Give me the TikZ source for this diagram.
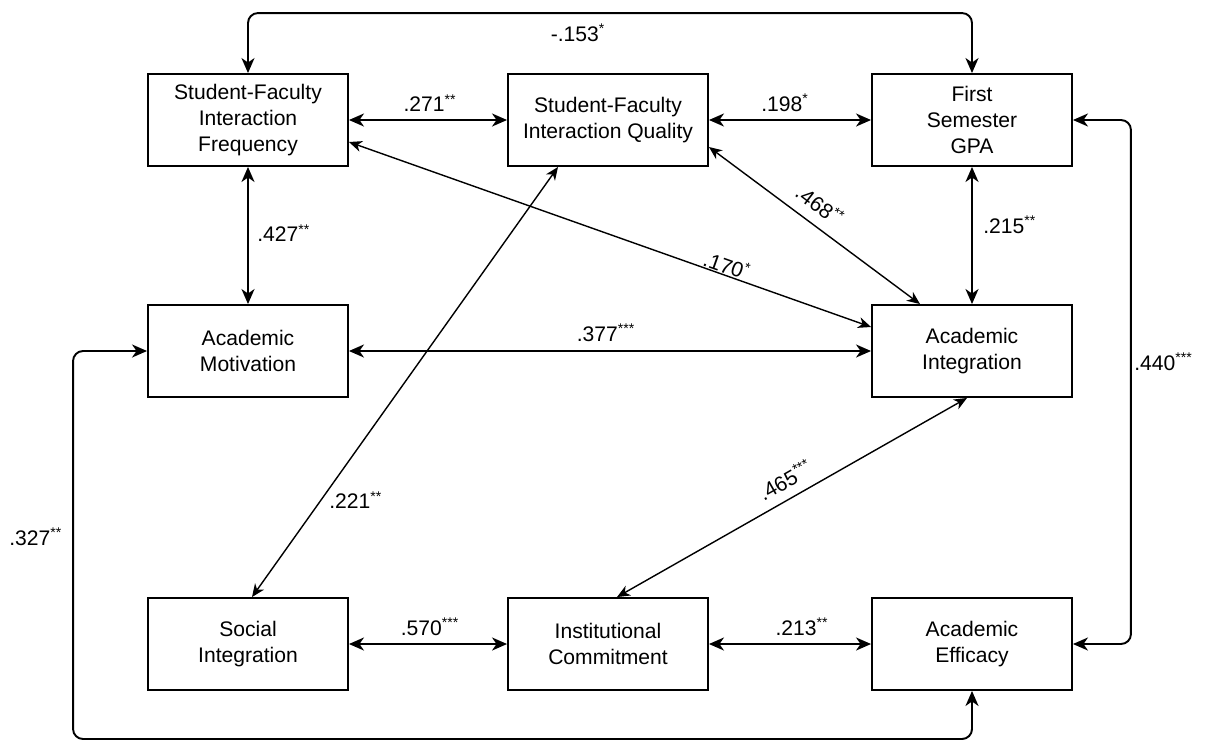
\documentclass[tikz,border=0pt]{standalone}
\usepackage{fontspec}
\setmainfont{Liberation Sans}
\usetikzlibrary{arrows.meta}

\begin{document}
\begin{tikzpicture}[x=0.02cm, y=-0.02cm,
    >={Stealth[length=3mm, width=2.6mm, inset=0.9mm]},
    box/.style={draw, line width=1.1pt, minimum width=4cm, minimum height=1.84cm, inner sep=0pt, align=center, font=\fontsize{12}{14.8}\selectfont},
    lbl/.style={inner sep=0pt, font=\fontsize{12}{14}\selectfont},
    link/.style={line width=1.1pt, <->},
    diag/.style={line width=0.8pt, <->, >={Stealth[length=2.6mm, width=2.2mm, inset=0.8mm]}},
]
\useasboundingbox (0,0) rectangle (1206,741);

\node[box] (sfif) at (248,120) {Student-Faculty\\Interaction\\Frequency};
\node[box] (sfiq) at (608,120) {Student-Faculty\\Interaction Quality};
\node[box] (gpa) at (972,120) {First\\Semester\\GPA};
\node[box] (am) at (248,351) {Academic\\Motivation};
\node[box] (ai) at (972,351) {Academic\\Integration};
\node[box] (si) at (248,644) {Social\\Integration};
\node[box] (ic) at (608,644) {Institutional\\Commitment};
\node[box] (ae) at (972,644) {Academic\\Efficacy};

\draw[link] (sfif) -- (sfiq);
\draw[link] (sfiq) -- (gpa);
\draw[link] (sfif) -- (am);
\draw[link] (gpa) -- (ai);
\draw[link] (am) -- (ai);
\draw[link] (si) -- (ic);
\draw[link] (ic) -- (ae);

\draw[diag] ([yshift=-0.44cm]sfif.east) -- ([yshift=0.48cm]ai.west);
\draw[diag] ([yshift=-0.54cm]sfiq.east) -- ([xshift=-1.04cm]ai.north);
\draw[diag] ([xshift=-1.0cm]sfiq.south) -- ([xshift=0.08cm]si.north);
\draw[diag] ([xshift=0.18cm]ic.north) -- ([xshift=-0.1cm]ai.south);

\draw[link, rounded corners=0.2cm] (sfif.north) -- ++(0,-60) -| (gpa.north);
\draw[link, rounded corners=0.2cm] (gpa.east) -- ++(58,0) |- (ae.east);
\draw[link, rounded corners=0.2cm] (am.west) -- ++(-74,0) -- ++(0,388) -| (ae.south);

\node[lbl] (l153) at (578,33) {-.153\textsuperscript{*}};
\node[lbl] (l271) at (430,103) {.271\textsuperscript{**}};
\node[lbl] (l198) at (785,103) {.198\textsuperscript{*}};
\node[lbl, anchor=west] (l427) at (257,233) {.427\textsuperscript{**}};
\node[lbl, anchor=west] (l215) at (983,225) {.215\textsuperscript{**}};
\node[lbl, rotate=-19.4] (l170) at (727,265) {.170\textsuperscript{*}};
\node[lbl, rotate=-37] (l468) at (820,205) {.468\textsuperscript{**}};
\node[lbl] (l377) at (606,333) {.377\textsuperscript{***}};
\node[lbl, anchor=west] (l440) at (1134,362) {.440\textsuperscript{***}};
\node[lbl, anchor=west] (l221) at (329,500) {.221\textsuperscript{**}};
\node[lbl, anchor=west] (l327) at (9,537) {.327\textsuperscript{**}};
\node[lbl, rotate=29.5] (l465) at (785,480) {.465\textsuperscript{***}};
\node[lbl] (l570) at (430,627) {.570\textsuperscript{***}};
\node[lbl] (l213) at (802,627) {.213\textsuperscript{**}};

\end{tikzpicture}
\end{document}
